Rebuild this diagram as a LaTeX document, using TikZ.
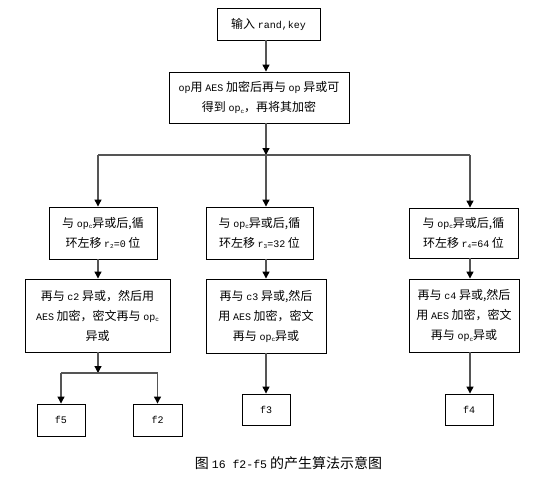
\documentclass[tikz,border=0pt]{standalone}
\usepackage{fontspec}
\setmainfont{Noto Sans CJK SC}
\setmonofont{Liberation Mono}
\usetikzlibrary{arrows.meta}
\definecolor{linegray}{RGB}{85,85,85}
\newcommand\lat[1]{{\fontsize{10}{10}\ttfamily #1}}
\newcommand\opc{\lat{op}\raisebox{-1.5pt}{\fontsize{6}{6}\ttfamily c}}
\newcommand\rsub[1]{\lat{r}\raisebox{-1.5pt}{\fontsize{6}{6}\ttfamily #1}}
\begin{document}
\begin{tikzpicture}[x=1pt,y=-1pt,
  box/.style={draw=black, line width=0.9pt, inner sep=0pt, align=center,
    font=\fontsize{12}{20}\selectfont},
  ln/.style={draw=linegray, line width=1.2pt},
  arr/.style={ln, -{Triangle[width=7pt,length=7pt,color=black]}}]
\fill[white] (0,0) rectangle (543,477);
\useasboundingbox (0,0) rectangle (543,477);
% columns and junctions
\coordinate (cA) at (98,0);
\coordinate (cB) at (266,0);
\coordinate (cC) at (470,0);
\coordinate (j1) at (266,155);
\coordinate (j2) at (98,373);
% boxes
\node[box, minimum width=103pt, minimum height=32pt] (in) at (268.5,24) {输入 \lat{rand,key}};
\node[box, minimum width=180pt, minimum height=51pt] (opb) at (259,97.5)
  {\lat{op}用 \lat{AES} 加密后再与 \lat{op} 异或可\\得到 \opc，再将其加密};
\node[box, minimum width=108pt, minimum height=52pt] (a1) at (103,233)
  {与 \opc 异或后,循\\环左移 \rsub{2}\lat{=0} 位};
\node[box, minimum width=107pt, minimum height=52pt] (b1) at (259.5,233)
  {与 \opc 异或后,循\\环左移 \rsub{3}\lat{=32} 位};
\node[box, minimum width=109pt, minimum height=50pt] (c1) at (463.5,233)
  {与 \opc 异或后,循\\环左移 \rsub{4}\lat{=64} 位};
\node[box, minimum width=145pt, minimum height=73pt] (a2) at (97.5,315.5)
  {再与 \lat{c2} 异或，然后用\\\lat{AES} 加密，密文再与 \opc\\异或};
\node[box, minimum width=120pt, minimum height=74pt] (b2) at (266,316)
  {再与 \lat{c3} 异或,然后\\用 \lat{AES} 加密，密文\\再与 \opc 异或};
\node[box, minimum width=110pt, minimum height=73pt] (c2) at (464,315.5)
  {再与 \lat{c4} 异或,然后\\用 \lat{AES} 加密，密文\\再与 \opc 异或};
\node[box, minimum width=48pt, minimum height=32pt] (f5) at (61,420) {\lat{f5}};
\node[box, minimum width=49pt, minimum height=32pt] (f2) at (157.5,420) {\lat{f2}};
\node[box, minimum width=48pt, minimum height=31pt] (f3) at (266,409.5) {\lat{f3}};
\node[box, minimum width=48pt, minimum height=31pt] (f4) at (469,409.5) {\lat{f4}};
% caption
\node[font=\fontsize{14}{14}\selectfont] (cap) at (288.5,463)
  {图 {\fontsize{11.5}{11.5}\ttfamily 16 f2-f5} 的产生算法示意图};
% connectors
\draw[arr] (in.south -| cB) -- (opb.north -| cB);
\draw[arr] (opb.south -| cB) -- (j1);
\draw[ln] (j1 -| cA) -- (j1 -| cC);
\draw[arr] (j1 -| cA) -- (a1.north -| cA);
\draw[arr] (j1) -- (b1.north -| cB);
\draw[arr] (j1 -| cC) -- (c1.north -| cC);
\draw[arr] (a1.south -| cA) -- (a2.north -| cA);
\draw[arr] (b1.south -| cB) -- (b2.north -| cB);
\draw[arr] (c1.south -| cC) -- (c2.north -| cC);
\draw[arr] (a2.south -| cA) -- (j2);
\draw[ln] (j2 -| f5.north) -- (j2 -| f2.north);
\draw[arr] (j2 -| f5.north) -- (f5.north);
\draw[arr] (j2 -| f2.north) -- (f2.north);
\draw[arr] (b2.south -| cB) -- (f3.north -| cB);
\draw[arr] (c2.south -| cC) -- (f4.north -| cC);
\end{tikzpicture}
\end{document}
